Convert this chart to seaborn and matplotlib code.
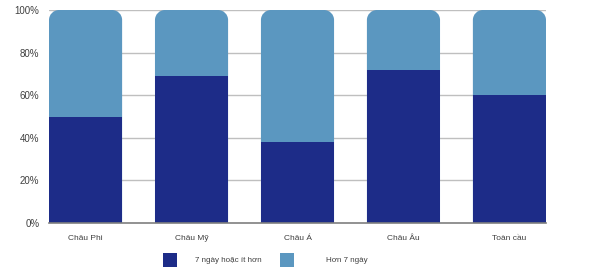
import matplotlib
matplotlib.use("Agg")
import matplotlib.pyplot as plt
import seaborn as sns
import pandas as pd
from matplotlib.path import Path
from matplotlib.patches import PathPatch, Patch

categories = ["Châu Phi", "Châu Mỹ", "Châu Á", "Châu Âu", "Toàn cầu"]
short_share = [50, 69, 38, 72, 60]      # 7 ngày hoặc ít hơn
total_share = [100, 100, 100, 100, 100]
series_labels = ["7 ngày hoặc ít hơn", "Hơn 7 ngày"]
yticks = [0, 20, 40, 60, 80, 100]

dark = "#1D2C88"
light = "#5B97C0"

sns.set_theme(style="white")
plt.rcParams["font.family"] = ["Liberation Sans", "DejaVu Sans"]

df = pd.DataFrame({"cat": categories, "short": short_share, "total": total_share})

fig = plt.figure(figsize=(6.02, 2.74), dpi=100)
ax = fig.add_axes([49/602, 1-223/274, (546-49)/602, (223-10)/274])

for y in yticks[1:]:
    ax.axhline(y, color="#BFBFBF", lw=1.0, zorder=0)

sns.barplot(data=df, x="cat", y="total", color=light, width=0.69, ax=ax,
            saturation=1, zorder=2, linewidth=0)
n = len(categories)
light_patches = list(ax.patches[:n])
sns.barplot(data=df, x="cat", y="short", color=dark, width=0.69, ax=ax,
            saturation=1, zorder=3, linewidth=0)

ax.set_xlim(-0.345, n - 1 + 0.345)
ax.set_ylim(0, 100)

# round top corners of the light bars (radius ~10 px)
px_per_x = (546 - 49) / (n - 1 + 0.69)
px_per_y = (223 - 10) / 100.0
rx = 10 / px_per_x
ry = 10 / px_per_y
k = 0.5523
for p in light_patches:
    x0, y0 = p.get_x(), p.get_y()
    w, h = p.get_width(), p.get_height()
    x1, y1 = x0 + w, y0 + h
    verts = [(x0, y0), (x0, y1 - ry),
             (x0, y1 - ry + k * ry), (x0 + rx - k * rx, y1), (x0 + rx, y1),
             (x1 - rx, y1),
             (x1 - rx + k * rx, y1), (x1, y1 - ry + k * ry), (x1, y1 - ry),
             (x1, y0), (x0, y0)]
    codes = [Path.MOVETO, Path.LINETO,
             Path.CURVE4, Path.CURVE4, Path.CURVE4,
             Path.LINETO,
             Path.CURVE4, Path.CURVE4, Path.CURVE4,
             Path.LINETO, Path.CLOSEPOLY]
    pp = PathPatch(Path(verts, codes), facecolor=light, edgecolor="none", zorder=2)
    p.set_visible(False)
    ax.add_patch(pp)

ax.set_yticks(yticks)
ax.set_yticklabels([f"{v}%" for v in yticks])
ax.set_xlabel("")
ax.set_ylabel("")
ax.tick_params(axis="y", length=0, pad=7, labelsize=7, labelcolor="#404040")
ax.tick_params(axis="x", length=0, pad=8.5, labelsize=6, labelcolor="#404040")
for s in ["top", "right", "left"]:
    ax.spines[s].set_visible(False)
ax.spines["bottom"].set_color("#7F7F7F")
ax.spines["bottom"].set_linewidth(1.2)
ax.spines["bottom"].set_zorder(4)

h1 = Patch(facecolor=dark, edgecolor="none")
h2 = Patch(facecolor=light, edgecolor="none")
fs = 5.8
fig.legend([h1], [series_labels[0]], loc="center left",
           bbox_to_anchor=(156/602, 1-260/274), frameon=False,
           fontsize=fs, handlelength=1.75, handleheight=2.3,
           handletextpad=2.25, labelcolor="#404040")
fig.legend([h2], [series_labels[1]], loc="center left",
           bbox_to_anchor=(273/602, 1-260/274), frameon=False,
           fontsize=fs, handlelength=1.75, handleheight=2.3,
           handletextpad=3.9, labelcolor="#404040")

fig.savefig("out.png", dpi=100)
